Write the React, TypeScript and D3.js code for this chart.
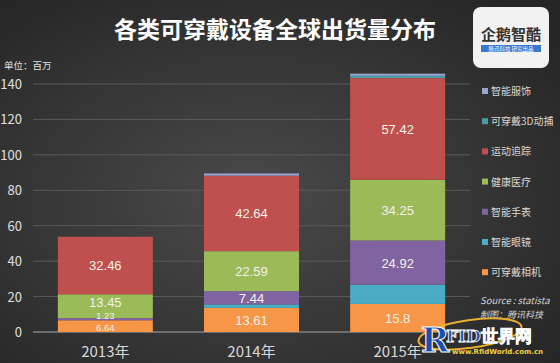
import * as d3 from 'd3'
import { useEffect, useRef } from 'react'

const years = ['2013年', '2014年', '2015年']
const seriesNames = ['可穿戴相机', '智能眼镜', '智能手表', '健康医疗', '运动追踪', '可穿戴3D动捕', '智能服饰']
const seriesColors = ['#f79646', '#4bacc6', '#8064a2', '#9bbb59', '#c0504d', '#4a9aa8', '#95a8d0']
const camera = [6.64, 13.61, 15.84]
const glasses = [0, 2.0, 10.9]
const watch = [1.23, 7.44, 24.92]
const health = [13.45, 22.59, 34.25]
const sports = [32.46, 42.64, 57.42]
const motion3d = [0, 0, 1.3]
const apparel = [0, 1.2, 1.2]
const labels: (string | null)[][] = [
  ['6.64', '13.61', '15.8'],
  [null, null, null],
  ['1.23', '7.44', '24.92'],
  ['13.45', '22.59', '34.25'],
  ['32.46', '42.64', '57.42'],
  [null, null, null],
  [null, null, null],
]
const yTicks = [0, 20, 40, 60, 80, 100, 120, 140]

export default function App() {
  const ref = useRef<SVGSVGElement>(null)

  useEffect(() => {
    if (!ref.current) return
    const svg = d3.select(ref.current)
    svg.selectAll('*').remove()
    const width = 560
    const height = 363
    const font = '"Noto Sans CJK SC", "Noto Sans", sans-serif'
    const numFont = '"Liberation Sans", "Noto Sans", sans-serif'

    // Background
    const defs = svg.append('defs')
    const grad = defs
      .append('radialGradient')
      .attr('id', 'bg')
      .attr('cx', '45%')
      .attr('cy', '55%')
      .attr('r', '70%')
    grad.append('stop').attr('offset', '0%').attr('stop-color', '#4a4a4a')
    grad.append('stop').attr('offset', '100%').attr('stop-color', '#262626')
    svg.append('rect').attr('width', width).attr('height', height).attr('fill', 'url(#bg)')

    const all = [camera, glasses, watch, health, sports, motion3d, apparel]
    const table = years.map((y, i) => {
      const row: any = { year: y }
      seriesNames.forEach((s, k) => (row[s] = all[k][i]))
      return row
    })
    const stacked = d3.stack().keys(seriesNames)(table)

    const x = d3
      .scaleBand()
      .domain(years)
      .range([33, 470])
      .paddingInner(0.35)
      .paddingOuter(0.17)
    const y = d3.scaleLinear().domain([0, 140]).range([332, 84])

    // Gridlines
    svg
      .append('g')
      .selectAll('line')
      .data(yTicks.filter(t => t > 0))
      .enter()
      .append('line')
      .attr('x1', 33)
      .attr('x2', 470)
      .attr('y1', d => y(d))
      .attr('y2', d => y(d))
      .attr('stroke', '#5a5a5a')
      .attr('stroke-width', 1)

    svg
      .append('line')
      .attr('x1', 33)
      .attr('x2', 470)
      .attr('y1', y(0))
      .attr('y2', y(0))
      .attr('stroke', '#808080')
      .attr('stroke-width', 1.5)

    // Y tick labels
    svg
      .append('g')
      .selectAll('text')
      .data(yTicks)
      .enter()
      .append('text')
      .attr('x', 22)
      .attr('y', d => y(d) + 5)
      .attr('text-anchor', 'end')
      .style('font-family', font)
      .style('font-size', '13px')
      .style('fill', '#e0e0e0')
      .text(d => d)

    // Bars
    const groups = svg
      .append('g')
      .selectAll('g')
      .data(stacked)
      .enter()
      .append('g')
      .attr('fill', (_, k) => seriesColors[k])

    groups
      .selectAll('rect')
      .data(d => d)
      .enter()
      .append('rect')
      .attr('x', d => x(d.data.year as any)!)
      .attr('y', d => y(d[1]))
      .attr('width', x.bandwidth())
      .attr('height', d => y(d[0]) - y(d[1]))

    // Value labels (the thin 2013 segments get smaller, separated labels)
    stacked.forEach((layer, k) => {
      layer.forEach((d, i) => {
        const txt = labels[k][i]
        if (!txt) return
        const small = i === 0 && (k === 0 || k === 2)
        let ty = (y(d[0]) + y(d[1])) / 2 + 5
        if (i === 0 && k === 0) ty = y(0) - 1
        if (i === 0 && k === 2) ty = y(d[1]) + 0.5
        if (i === 0 && k === 3) ty = y(d[1]) + 13
        svg
          .append('text')
          .attr('x', x(years[i])! + x.bandwidth() / 2)
          .attr('y', ty)
          .attr('text-anchor', 'middle')
          .style('font-family', numFont)
          .style('font-size', small ? '9.5px' : '13px')
          .style('fill', '#f4f0ea')
          .text(txt)
      })
    })

    // X labels
    svg
      .append('g')
      .selectAll('text')
      .data(years)
      .enter()
      .append('text')
      .attr('x', d => x(d)! + x.bandwidth() / 2)
      .attr('y', 357)
      .attr('text-anchor', 'middle')
      .style('font-family', font)
      .style('font-size', '15px')
      .style('fill', '#d8d8d8')
      .text(d => d)

    // Legend
    const legendOrder = seriesNames.map((_, k) => k).reverse()
    legendOrder.forEach((k, j) => {
      const ly = 92 + j * 30.2
      svg
        .append('rect')
        .attr('x', 482)
        .attr('y', ly - 4)
        .attr('width', 6)
        .attr('height', 6)
        .attr('fill', seriesColors[k])
      svg
        .append('text')
        .attr('x', 491)
        .attr('y', ly + 3)
        .style('font-family', font)
        .style('font-size', '10px')
        .style('fill', '#d8d8d8')
        .text(seriesNames[k])
    })

    // Source
    svg
      .append('text')
      .attr('x', 480)
      .attr('y', 304)
      .style('font-family', font)
      .style('font-size', '9.5px')
      .style('font-style', 'italic')
      .style('fill', '#d0d0d0')
      .text('Source : statista')
    svg
      .append('text')
      .attr('x', 480)
      .attr('y', 318)
      .style('font-family', font)
      .style('font-size', '9px')
      .style('font-style', 'italic')
      .style('fill', '#d0d0d0')
      .text('制图：腾讯科技')

    // Title
    svg
      .append('text')
      .attr('x', 275)
      .attr('y', 38)
      .attr('text-anchor', 'middle')
      .style('font-family', font)
      .style('font-size', '23px')
      .style('font-weight', 'bold')
      .style('fill', '#ffffff')
      .text('各类可穿戴设备全球出货量分布')

    svg
      .append('text')
      .attr('x', 4)
      .attr('y', 69)
      .style('font-family', font)
      .style('font-size', '9.5px')
      .style('fill', '#e0e0e0')
      .text('单位：百万')

    // Logo
    svg
      .append('rect')
      .attr('x', 473)
      .attr('y', 7)
      .attr('width', 76)
      .attr('height', 61)
      .attr('rx', 8)
      .attr('fill', '#f2f2f2')
    svg
      .append('text')
      .attr('x', 511)
      .attr('y', 40)
      .attr('text-anchor', 'middle')
      .style('font-family', font)
      .style('font-size', '15px')
      .style('font-weight', 'bold')
      .style('fill', '#333')
      .text('企鹅智酷')
    svg
      .append('rect')
      .attr('x', 481)
      .attr('y', 45)
      .attr('width', 60)
      .attr('height', 7)
      .attr('fill', '#3a78d0')
    svg
      .append('text')
      .attr('x', 511)
      .attr('y', 51)
      .attr('text-anchor', 'middle')
      .style('font-family', font)
      .style('font-size', '5.5px')
      .style('fill', '#fff')
      .text('腾讯科技  研究出品')

    // Watermark
    svg
      .append('ellipse')
      .attr('cx', 470)
      .attr('cy', 334)
      .attr('rx', 52)
      .attr('ry', 14)
      .attr('fill', 'none')
      .attr('stroke', '#e8b030')
      .attr('stroke-width', 2)
      .attr('transform', 'rotate(-8 470 334)')
    svg
      .append('text')
      .attr('x', 421)
      .attr('y', 352)
      .style('font-family', '"DejaVu Serif", serif')
      .style('font-size', '34px')
      .style('font-weight', 'bold')
      .style('fill', '#1a4fb0')
      .style('stroke', '#ffffff')
      .style('stroke-width', 1)
      .text('R')
    svg
      .append('text')
      .attr('x', 446)
      .attr('y', 342)
      .style('font-family', '"DejaVu Serif", serif')
      .style('font-size', '17px')
      .style('font-weight', 'bold')
      .style('fill', '#1a4fb0')
      .style('stroke', '#ffffff')
      .style('stroke-width', 0.8)
      .text('FID世界网')
    svg
      .append('text')
      .attr('x', 452)
      .attr('y', 354)
      .style('font-family', '"DejaVu Sans", sans-serif')
      .style('font-size', '7px')
      .style('font-weight', 'bold')
      .style('fill', '#f0d040')
      .text('www.RfidWorld.com.cn')
  }, [])

  return (
    <svg
      ref={ref}
      width={560}
      height={363}
      style={{ position: 'absolute', left: 0, top: 0, display: 'block' }}
    ></svg>
  )
}
